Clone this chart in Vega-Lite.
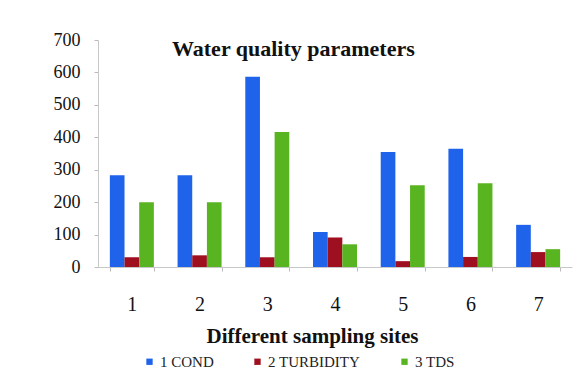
{
  "$schema": "https://vega.github.io/schema/vega-lite/v6.json",
  "autosize": {"type": "none"},
  "width": 474,
  "height": 227,
  "padding": {"left": 98, "top": 40, "right": 12, "bottom": 120},
  "background": "white",
  "config": {
    "view": {"stroke": null},
    "font": "Liberation Serif"
  },
  "title": {
    "text": "Water quality parameters",
    "font": "Liberation Serif",
    "fontSize": 22,
    "fontWeight": "bold",
    "color": "#111111",
    "anchor": "start",
    "frame": "group",
    "dx": 74,
    "offset": -30
  },
  "data": {
    "values": [
      {"site": "1", "param": "1 COND", "value": 283},
      {"site": "1", "param": "2 TURBIDITY", "value": 30},
      {"site": "1", "param": "3 TDS", "value": 200},
      {"site": "2", "param": "1 COND", "value": 283},
      {"site": "2", "param": "2 TURBIDITY", "value": 36},
      {"site": "2", "param": "3 TDS", "value": 200},
      {"site": "3", "param": "1 COND", "value": 587},
      {"site": "3", "param": "2 TURBIDITY", "value": 30},
      {"site": "3", "param": "3 TDS", "value": 416},
      {"site": "4", "param": "1 COND", "value": 108},
      {"site": "4", "param": "2 TURBIDITY", "value": 91},
      {"site": "4", "param": "3 TDS", "value": 70},
      {"site": "5", "param": "1 COND", "value": 355},
      {"site": "5", "param": "2 TURBIDITY", "value": 18},
      {"site": "5", "param": "3 TDS", "value": 252},
      {"site": "6", "param": "1 COND", "value": 365},
      {"site": "6", "param": "2 TURBIDITY", "value": 31},
      {"site": "6", "param": "3 TDS", "value": 258},
      {"site": "7", "param": "1 COND", "value": 130},
      {"site": "7", "param": "2 TURBIDITY", "value": 46},
      {"site": "7", "param": "3 TDS", "value": 55}
    ]
  },
  "mark": {"type": "bar"},
  "encoding": {
    "x": {
      "field": "site",
      "type": "nominal",
      "scale": {"paddingInner": 0.35, "paddingOuter": 0.175},
      "axis": {
        "title": "Different sampling sites",
        "titleFont": "Liberation Serif",
        "titleFontSize": 21,
        "titleFontWeight": "bold",
        "titleColor": "#111111",
        "titleX": 214,
        "titleY": 75,
        "titleBaseline": "alphabetic",
        "titleAnchor": "middle",
        "labelAngle": 0,
        "labelFont": "Liberation Serif",
        "labelFontSize": 20,
        "labelColor": "#111111",
        "labelBaseline": "top",
        "labelPadding": 23,
        "tickBand": "extent",
        "tickSize": 4,
        "tickColor": "#bbbbbb",
        "domainColor": "#c8c8c8",
        "grid": false
      }
    },
    "y": {
      "field": "value",
      "type": "quantitative",
      "scale": {"domain": [0, 700], "nice": false},
      "axis": {
        "title": null,
        "values": [0, 100, 200, 300, 400, 500, 600, 700],
        "labelFont": "Liberation Serif",
        "labelFontSize": 18,
        "labelColor": "#111111",
        "labelPadding": 14,
        "tickSize": 4,
        "tickColor": "#bbbbbb",
        "domainColor": "#c8c8c8",
        "grid": false
      }
    },
    "xOffset": {"field": "param", "type": "nominal"},
    "color": {
      "field": "param",
      "type": "nominal",
      "scale": {
        "domain": ["1 COND", "2 TURBIDITY", "3 TDS"],
        "range": ["#1f63ea", "#9e0f1f", "#58b521"]
      },
      "legend": {
        "title": null,
        "orient": "none",
        "direction": "horizontal",
        "legendX": 44,
        "legendY": 314,
        "symbolType": "square",
        "symbolSize": 40,
        "labelFont": "Liberation Serif",
        "labelFontSize": 15,
        "labelColor": "#222222",
        "labelOffset": 3,
        "columnPadding": 36
      }
    }
  }
}
